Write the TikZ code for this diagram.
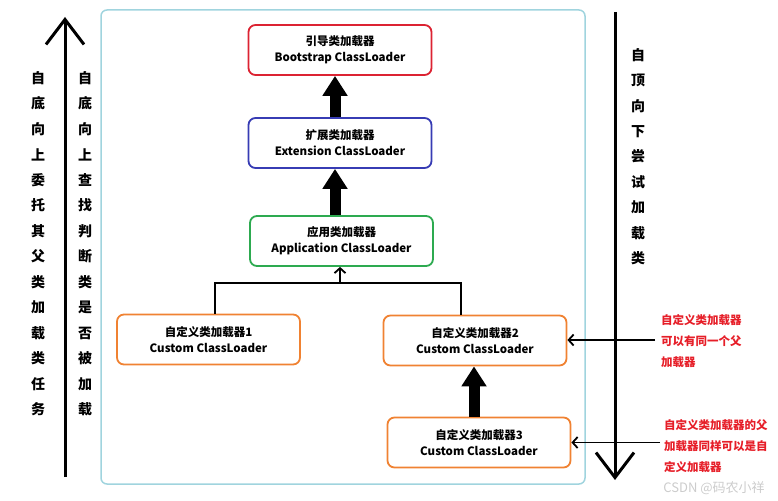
\documentclass[tikz,border=0pt]{standalone}
\usepackage{fontspec}
\setmainfont{Noto Sans CJK SC}
\usepackage{tikz}
\usetikzlibrary{arrows.meta,calc}
\definecolor{framecol}{RGB}{160,212,222}
\definecolor{bootred}{RGB}{220,35,50}
\definecolor{extblue}{RGB}{55,60,180}
\definecolor{appgreen}{RGB}{45,170,80}
\definecolor{custorange}{RGB}{240,130,50}
\definecolor{notered}{RGB}{230,30,40}
\tikzset{
  loader/.style={rectangle,rounded corners=7pt,line width=1.8pt,fill=white,align=center,minimum width=183pt,minimum height=50pt,inner sep=0pt,font=\fontsize{11.5}{16}\selectfont\bfseries},
  colchar/.style={font=\fontsize{14}{14}\selectfont\bfseries,inner sep=0pt},
  note/.style={anchor=west,align=left,text=notered,inner sep=0pt,font=\fontsize{11.5}{21}\selectfont\bfseries},
  fatarrow/.style={line width=11pt,-{Triangle[length=20pt,width=24pt]}},
  longarrow/.style={line width=3pt,-{Straight Barb[length=25pt,width=38pt]}},
  thinarrow/.style={line width=1.8pt,-{Straight Barb[length=5pt,width=11pt]}}
}
\begin{document}
\begin{tikzpicture}[x=1pt,y=-1pt]
  \useasboundingbox (0,0) rectangle (778,500);
  % outer frame
  \draw[framecol,line width=1.5pt,rounded corners=6pt] (101,10) rectangle (585,484);

  % side arrows
  \coordinate (lbot) at (65,477);
  \coordinate (ltop) at (65,17);
  \coordinate (rtop) at (615,12);
  \coordinate (rbot) at (615,480);
  \draw[longarrow] (lbot) -- (ltop);
  \draw[longarrow] (rtop) -- (rbot);

  % vertical texts
  \foreach \c [count=\i] in {自,底,向,上,委,托,其,父,类,加,载,类,任,务}
    \node[colchar] (la\i) at (38,{78+25.5*(\i-1)}) {\c};
  \foreach \c [count=\i] in {自,底,向,上,查,找,判,断,类,是,否,被,加,载}
    \node[colchar] (lb\i) at (85,{78+25.5*(\i-1)}) {\c};
  \foreach \c [count=\i] in {自,顶,向,下,尝,试,加,载,类}
    \node[colchar] (ra\i) at (638,{55+25.4*(\i-1)}) {\c};

  % loaders
  \node[loader,draw=bootred] (boot) at (340,50) {引导类加载器\\Bootstrap ClassLoader};
  \node[loader,draw=extblue] (ext) at (340,143) {扩展类加载器\\Extension ClassLoader};
  \node[loader,draw=appgreen] (app) at (341.5,241) {应用类加载器\\Application ClassLoader};
  \node[loader,draw=custorange] (cust1) at (208.5,339.5) {自定义类加载器1\\Custom ClassLoader};
  \node[loader,draw=custorange] (cust2) at (475,340.5) {自定义类加载器2\\Custom ClassLoader};
  \node[loader,draw=custorange] (cust3) at (479,442.5) {自定义类加载器3\\Custom ClassLoader};

  % delegation arrows
  \draw[fatarrow] ([xshift=-5pt]ext.north) -- ([xshift=-5pt]boot.south);
  \draw[fatarrow] ([xshift=-6.5pt]app.north) -- ([xshift=-5pt]ext.south);
  \draw[fatarrow] ([xshift=-5pt]cust3.north) -- ([xshift=-5pt]cust3.north |- cust2.south);

  % tree to application loader
  \coordinate (fork) at (340,283);
  \draw[line width=1.8pt] ([xshift=6.5pt]cust1.north) |- (fork) -| ([xshift=-14pt]cust2.north);
  \draw[thinarrow] (fork) -- (fork |- app.south);

  % notes
  \node[note] (note1) at (661,341) {自定义类加载器\\可以有同一个父\\加载器};
  \node[note] (note2) at (664,446) {自定义类加载器的父\\加载器同样可以是自\\定义加载器};
  \coordinate (n1) at (655,340);
  \coordinate (n2) at (660,442.5);
  \draw[thinarrow] (n1) -- (n1 -| cust2.east);
  \draw[thinarrow] (n2) -- (n2 -| cust3.east);

  % watermark
  \node[text=black!20,font=\fontsize{13}{13}\selectfont,inner sep=0pt] (wm) at (714,488) {CSDN @码农小祥};
\end{tikzpicture}
\end{document}
